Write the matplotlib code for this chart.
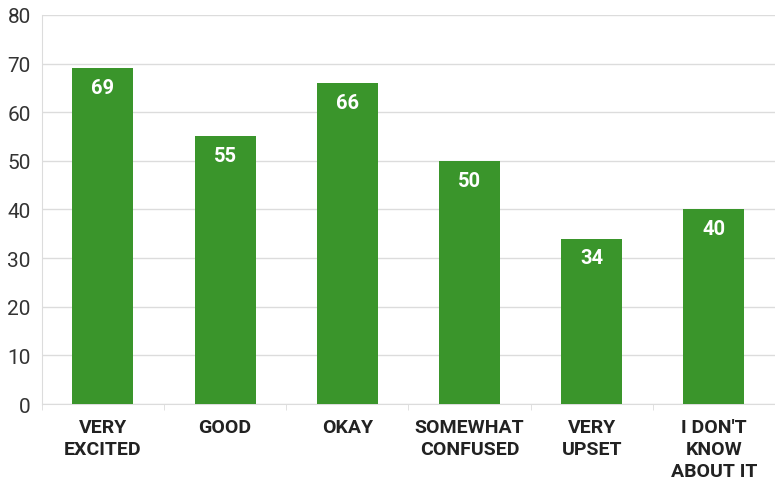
import matplotlib.pyplot as plt
import numpy as np

categories = ['VERY\nEXCITED', 'GOOD', 'OKAY', 'SOMEWHAT\nCONFUSED', 'VERY\nUPSET', "I DON'T\nKNOW\nABOUT IT"]
values = [69, 55, 66, 50, 34, 40]
y_ticks = [0, 10, 20, 30, 40, 50, 60, 70, 80]

GREEN = '#3a952b'
GRID = '#dcdcdc'


def main():
    plt.rcParams['font.family'] = ['Roboto', 'DejaVu Sans']
    fig = plt.figure(figsize=(7.75, 4.81), dpi=100)
    ax = fig.add_axes([0.054, 0.158, 0.946, 0.809])

    x = np.arange(len(categories))
    bars = ax.bar(x, values, width=0.5, color=GREEN, zorder=3)

    for bar, v in zip(bars, values):
        ax.annotate(str(v), (bar.get_x() + bar.get_width() / 2, v),
                    xytext=(0, -7), textcoords='offset points',
                    ha='center', va='top', color='white',
                    fontsize=14.5, fontweight='bold', zorder=4)

    ax.set_xlim(-0.5, len(categories) - 0.5)
    ax.set_ylim(0, 80)
    ax.set_yticks(y_ticks)
    ax.yaxis.grid(True, color=GRID, linewidth=1, zorder=0)

    ax.set_xticks(x)
    ax.set_xticklabels(categories, fontsize=14, fontweight='bold',
                       color='#222222', linespacing=1.3)
    ax.set_xticks(np.arange(len(categories) + 1) - 0.5, minor=True)
    ax.tick_params(axis='x', which='major', length=0, pad=10)
    ax.tick_params(axis='x', which='minor', length=4, color=GRID)
    ax.tick_params(axis='y', length=0, pad=8, labelsize=15, labelcolor='#333333')

    for side in ('top', 'right'):
        ax.spines[side].set_visible(False)
    ax.spines['left'].set_color(GRID)
    ax.spines['bottom'].set_color(GRID)

    fig.savefig('out.png', dpi=100)


if __name__ == '__main__':
    main()
